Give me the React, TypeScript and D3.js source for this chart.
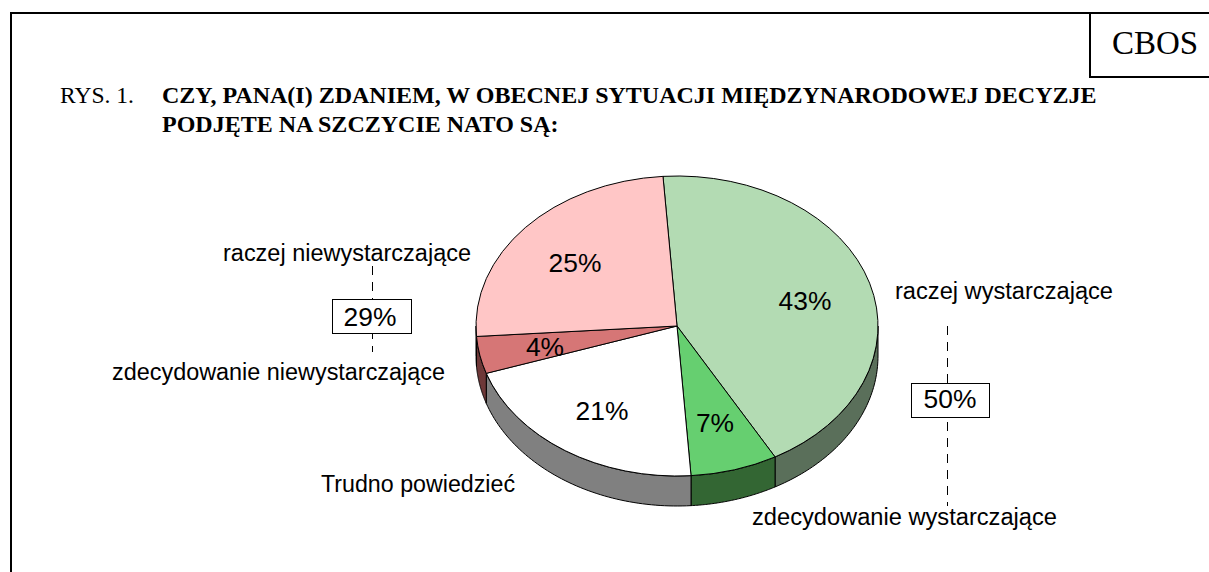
import React from "react";
import * as d3 from "d3";

const sliceNames = ["raczej wystarczające", "zdecydowanie wystarczające", "Trudno powiedzieć", "zdecydowanie niewystarczające", "raczej niewystarczające"];
const sliceValues = [43, 7, 21, 4, 25];
const topColors = ["#b3dbb3", "#66cf70", "#ffffff", "#d67676", "#ffc6c6"];
const sideColors = ["#5a6f5a", "#336633", "#808080", "#6e3838", "#806363"];
const titleLines = ["CZY, PANA(I) ZDANIEM, W OBECNEJ SYTUACJI MIĘDZYNARODOWEJ DECYZJE", "PODJĘTE NA SZCZYCIE NATO SĄ:"];
const figureLabel = "RYS. 1.";
const brand = "CBOS";
const totals = ["29%", "50%"];

const W = 1209, H = 572;
const cx = 677, cy = 326, rx = 201, ry = 150, depth = 30;
const sans = "'Liberation Sans', Arial, sans-serif";
const serif = "'Liberation Serif', 'Times New Roman', serif";
const startA = (-4 * Math.PI) / 180;

const arcs = d3.pie<number>().sort(null).startAngle(startA).endAngle(startA + 2 * Math.PI)(sliceValues);
const arcGen = d3.arc<any>().innerRadius(0).outerRadius(rx);
const px = (a: number) => Math.sin(a) * rx;
const py = (a: number) => -Math.cos(a) * ry;

function wallPath(a0: number, a1: number) {
  const lo = Math.max(a0, Math.PI / 2), hi = Math.min(a1, (3 * Math.PI) / 2);
  if (lo >= hi) return null;
  const n = 60;
  const ts = d3.range(n + 1).map((i) => lo + ((hi - lo) * i) / n);
  const pts: [number, number][] = [
    ...ts.map((t) => [px(t), py(t)] as [number, number]),
    ...ts.slice().reverse().map((t) => [px(t), py(t) + depth] as [number, number]),
  ];
  return d3.line()(pts) + "Z";
}

const pctPos: [number, number][] = [[805, 300], [715, 422], [602, 410], [545, 346], [575, 262]];
const labels: { t: string; x: number; y: number; len: number }[] = [
  { t: sliceNames[4], x: 223, y: 261, len: 248 },
  { t: sliceNames[3], x: 112, y: 380, len: 333 },
  { t: sliceNames[2], x: 321, y: 492, len: 194 },
  { t: sliceNames[1], x: 752, y: 525, len: 305 },
  { t: sliceNames[0], x: 895, y: 299, len: 218 },
];

export default function App() {
  return (
    <svg width={W} height={H} viewBox={`0 0 ${W} ${H}`} style={{ position: "absolute", left: 0, top: 0, background: "#fff" }}>
      <g stroke="#000" strokeWidth={2} fill="none">
        <path d={`M11 ${H}V13H${W}`} />
        <path d={`M1090 13V77H${W}`} />
      </g>
      <text x={1112} y={54} fontFamily={serif} fontSize={33} fill="#000">{brand}</text>
      <text x={60} y={103} fontFamily={serif} fontSize={24} fill="#000" textLength={74} lengthAdjust="spacingAndGlyphs">{figureLabel}</text>
      {titleLines.map((l, i) => (
        <text key={i} x={162} y={103 + i * 29} fontFamily={serif} fontSize={24} fontWeight="bold" fill="#000">{l}</text>
      ))}

      <g transform={`translate(${cx},${cy})`}>
        {arcs.map((a, i) => {
          const d = wallPath(a.startAngle, a.endAngle);
          return d ? <path key={i} d={d} fill={sideColors[i]} stroke="#000" strokeWidth={1} /> : null;
        })}
        <g transform={`scale(1,${ry / rx})`}>
          {arcs.map((a, i) => (
            <path key={i} d={arcGen(a) as string} fill={topColors[i]} stroke="#000" strokeWidth={1} vectorEffect="non-scaling-stroke" />
          ))}
        </g>
      </g>

      {sliceValues.map((v, i) => (
        <text key={i} x={pctPos[i][0]} y={pctPos[i][1] + 10} textAnchor="middle" fontFamily={sans} fontSize={26.4} fill="#000">{v}%</text>
      ))}

      <g stroke="#000" strokeWidth={1} strokeDasharray="9 7">
        <line x1={372.5} y1={266} x2={372.5} y2={352} />
        <line x1={947.5} y1={326} x2={947.5} y2={506} />
      </g>
      <rect x={332.5} y={299.5} width={79} height={34} fill="#fff" stroke="#000" />
      <rect x={911.5} y={383.5} width={78} height={34} fill="#fff" stroke="#000" />
      <text x={370} y={326} textAnchor="middle" fontFamily={sans} fontSize={26.4} fill="#000">{totals[0]}</text>
      <text x={950} y={408} textAnchor="middle" fontFamily={sans} fontSize={26.4} fill="#000">{totals[1]}</text>

      {labels.map((l, i) => (
        <text key={i} x={l.x} y={l.y} fontFamily={sans} fontSize={23.5} fill="#000" textLength={l.len} lengthAdjust="spacingAndGlyphs">{l.t}</text>
      ))}
    </svg>
  );
}
